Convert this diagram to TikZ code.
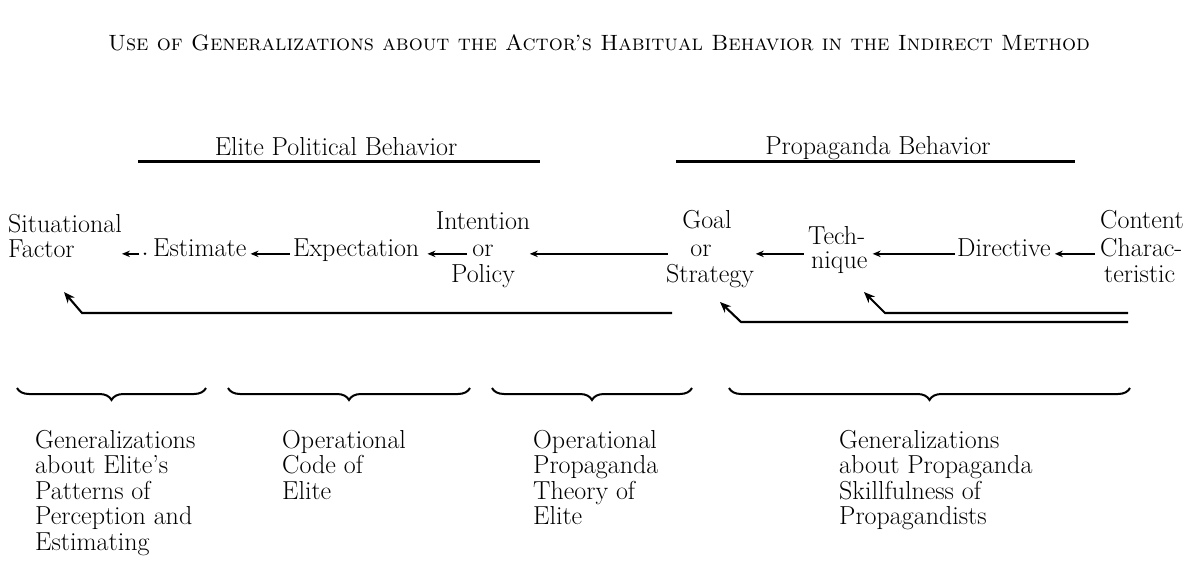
\documentclass[tikz,border=0pt]{standalone}
\usepackage{graphicx}
\usetikzlibrary{arrows.meta,calc,decorations.pathreplacing}
\begin{document}
\begin{tikzpicture}[x=1pt,y=-1pt,
  every node/.style={font=\fontsize{26}{25.5}\selectfont, inner sep=0pt},
  lbl/.style={anchor=base},
  lblw/.style={anchor=base west},
  col/.style={anchor=north west, align=left},
  arr/.style={line width=1.4pt, -{Stealth[length=8pt,width=6.5pt]}},
  rarr/.style={line width=2.1pt, -{Stealth[length=11pt,width=9pt]}},
  rule/.style={line width=2.4pt},
  brc/.style={line width=2pt, decorate, decoration={brace, mirror, amplitude=12pt}}]
\useasboundingbox (0,0) rectangle (1196,578);

% title
\node (title) at (599,43) {\resizebox{982pt}{!}{\textsc{Use of Generalizations about the Actor's Habitual Behavior in the Indirect Method}}};

% headings
\node[lbl] (elite) at (336,155) {Elite Political Behavior};
\node[lbl] (prop) at (878,154) {Propaganda Behavior};
\draw[rule] (138,161.5) -- (540,161.5);
\draw[rule] (676,161.5) -- (1075,161.5);

% main row
\node[lblw] (sit) at (8,232) {Situational};
\node[lblw] (fac) at (8,257) {Factor};
\node[lblw] (est) at (153,256) {Estimate};
\node[lblw] (expn) at (293,256) {Expectation};
\node[lbl] (int1) at (483,229) {Intention};
\node[lbl] (int2) at (483,256) {or};
\node[lbl] (int3) at (483,282) {Policy};
\node[lbl] (goal1) at (707,228) {Goal};
\node[lbl] (goal2) at (701,256) {or};
\node[lbl] (goal3) at (710,282) {Strategy};
\node[lblw] (tech1) at (808,244) {Tech-};
\node[lblw] (tech2) at (811,268) {nique};
\node[lblw] (dir) at (957,256) {Directive};
\node[lblw] (con1) at (1100,228) {Content};
\node[lblw] (con2) at (1100,256) {Charac-};
\node[lblw] (con3) at (1104,282) {teristic};

% main row arrows
\draw[arr] ($(est.mid west)+(-14,0)$) -- (sit.east |- est.mid);
\fill ($(est.mid west)+(-8,0)$) circle (1.4);
\draw[arr] ($(expn.mid west)+(-3,0)$) -- ($(est.mid east)+(4,0)$);
\draw[arr] ($(int2.mid west)+(-5,0)$) -- ($(expn.mid east)+(8,0)$);
\draw[arr] ($(goal2.mid west)+(-22,0)$) -- ($(int2.mid east)+(36,0)$);
\draw[arr] ($(tech1.west |- goal2.mid)+(-4,0)$) -- ($(goal2.mid east)+(44,0)$);
\draw[arr] ($(dir.mid west)+(-2,0)$) -- ($(tech2.east |- dir.mid)+(5,0)$);
\draw[arr] ($(con2.mid west)+(-5,0)$) -- ($(dir.mid east)+(4,0)$);

% return arrows
\coordinate (b1s) at (672,313);
\coordinate (b1c) at (82,313);
\coordinate (b1t) at (64,292);
\coordinate (b2s) at (1128,313);
\coordinate (b2c) at (885,313);
\coordinate (b2t) at (864,292);
\coordinate (b3s) at (1128,322);
\coordinate (b3c) at (741,322);
\coordinate (b3t) at (720,302);
\draw[rarr] (b1s) -- (b1c) -- (b1t);
\draw[rarr] (b2s) -- (b2c) -- (b2t);
\draw[rarr] (b3s) -- (b3c) -- (b3t);

% braces
\draw[brc] (17,388) -- (206,388);
\draw[brc] (228,388) -- (470,388);
\draw[brc] (492,388) -- (692,388);
\draw[brc] (729,388) -- (1130,388);

% bottom texts
\node[col] (g1) at (35,430) {Generalizations\\about Elite's\\Patterns of\\Perception and\\Estimating};
\node[col] (g2) at (282,430) {Operational\\Code of\\Elite};
\node[col] (g3) at (533,430) {Operational\\Propaganda\\Theory of\\Elite};
\node[col] (g4) at (839,430) {Generalizations\\about Propaganda\\Skillfulness of\\Propagandists};
\end{tikzpicture}
\end{document}
